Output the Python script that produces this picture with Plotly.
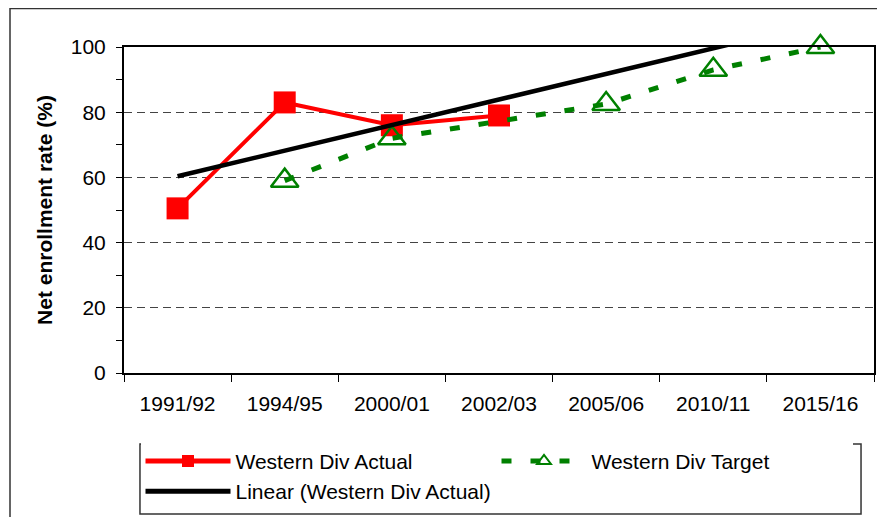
import numpy as np
import plotly.graph_objects as go

# === Dados ===
periods = ['1991/92', '1994/95', '2000/01', '2002/03', '2005/06', '2010/11', '2015/16']

actual_periods = ['1991/92', '1994/95', '2000/01', '2002/03']
actual_values = [50.5, 83, 76, 79]

target_periods = ['1994/95', '2000/01', '2005/06', '2010/11', '2015/16']
target_values = [59, 72, 82.5, 93, 100]

# linear trend of actual, extended forward over all periods (like Excel)
xi = np.arange(1, len(actual_values) + 1)
slope, icpt = np.polyfit(xi, actual_values, 1)
trend_x = np.arange(1, len(periods) + 1)
trend_y = slope * trend_x + icpt

FONT = 'Liberation Sans, Arial, sans-serif'

fig = go.Figure()
fig.add_trace(go.Scatter(
    x=actual_periods, y=actual_values, mode='lines+markers',
    name='Western Div Actual',
    line=dict(color='#ff0000', width=4),
    marker=dict(symbol='square', size=22, color='#ff0000')
))
fig.add_trace(go.Scatter(
    x=target_periods, y=target_values, mode='lines+markers',
    name='Western Div Target', cliponaxis=False,
    line=dict(color='#008000', width=5, dash='10px,19px'),
    marker=dict(symbol='triangle-up-open', size=24, color='#008000',
                line=dict(width=2.5, color='#008000'))
))
fig.add_trace(go.Scatter(
    x=[periods[i - 1] for i in trend_x], y=trend_y, mode='lines',
    name='Linear (Western Div Actual)',
    line=dict(color='black', width=4.5)
))

# page body has ~8px margin, so the figure is a bit smaller and shifted
fig.update_layout(
    width=877, height=509,
    margin=dict(l=116, r=11, t=39, b=144, autoexpand=False),
    paper_bgcolor='white', plot_bgcolor='white',
    font=dict(family=FONT, size=21, color='black'),
    showlegend=True,
    legend=dict(
        orientation='h', x=0.022, y=-0.208, xanchor='left', yanchor='top',
        itemwidth=85, entrywidth=256, borderwidth=0,
        font=dict(size=21), traceorder='normal', itemsizing='constant'
    ),
    xaxis=dict(
        type='category', categoryorder='array', categoryarray=periods,
        range=[-0.5, len(periods) - 0.5],
        showline=True, linecolor='black', linewidth=2, mirror=True,
        ticks='outside', tickson='boundaries', ticklen=7, tickcolor='black',
        ticklabelstandoff=11,
        showgrid=False, tickfont=dict(size=21)
    ),
    yaxis=dict(
        title=dict(text='<b>Net enrollment rate (%)</b>', font=dict(size=21), standoff=12),
        range=[0, 100], dtick=20,
        showline=True, linecolor='black', linewidth=2, mirror=True,
        ticks='outside', ticklen=6, tickcolor='black', ticklabelstandoff=6,
        minor=dict(dtick=10, ticks='outside', ticklen=6, tickcolor='black', showgrid=False),
        showgrid=True, gridcolor='#444', griddash='8px,5px', gridwidth=1,
        zeroline=False, tickfont=dict(size=21)
    )
)

# legend box
fig.add_shape(type='rect', xref='paper', yref='paper',
              x0=0.0213, y0=-0.4325, x1=0.9827, y1=-0.2178,
              line=dict(color='#333', width=1.5))
# outer chart border
fig.add_shape(type='rect', xref='paper', yref='paper',
              x0=-0.152, y0=-0.5, x1=1.05, y1=1.118,
              line=dict(color='#333', width=1.5), layer='below')

fig.write_html('out.html')
